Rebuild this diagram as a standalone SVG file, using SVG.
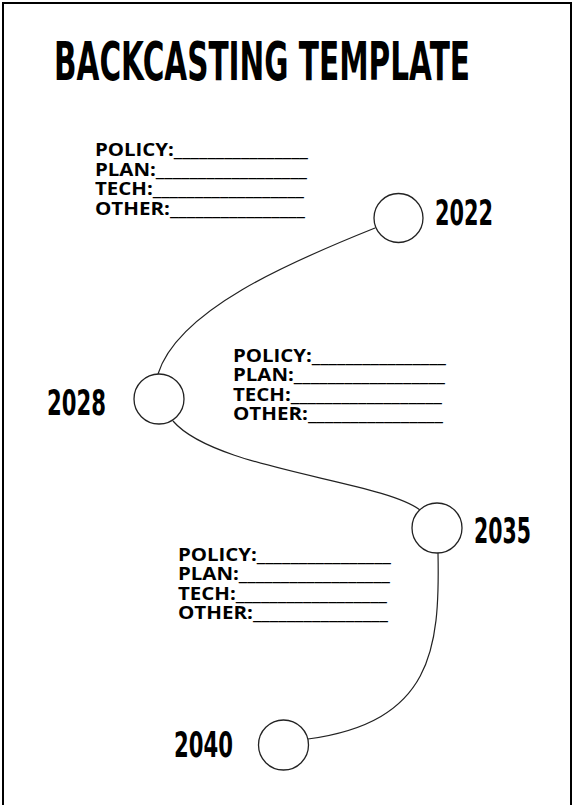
<svg xmlns="http://www.w3.org/2000/svg" width="574" height="805" viewBox="0 0 574 805">
<style>
.title{font-family:"DejaVu Sans",sans-serif;font-weight:bold;font-size:40px;fill:#000}
.year{font-family:"DejaVu Sans",sans-serif;font-weight:bold;font-size:36px;fill:#000}
.field{font-family:"Open Sans","Noto Sans",sans-serif;font-weight:bold;font-size:18.5px;fill:#000}
.node{fill:#fff;stroke:#222;stroke-width:1.3}
.conn{fill:none;stroke:#222;stroke-width:1.2}
</style>
<rect x="0" y="0" width="574" height="805" fill="#fff"/>
<rect x="3" y="3" width="568" height="830" fill="none" stroke="#000" stroke-width="2"/>
<text class="title" transform="translate(54,80) scale(1,1.32)" x="0" y="0" textLength="416" lengthAdjust="spacingAndGlyphs">BACKCASTING TEMPLATE</text>
<g id="connectors">
<path class="conn" d="M375,228 C290,262 178,310 158,374"/>
<path class="conn" d="M173,421 C215,470 380,480 420,510"/>
<path class="conn" d="M438,553 C440,650 432,722 308,739"/>
</g>
<g id="fields-1">
<text class="field" x="95" y="156" textLength="213" lengthAdjust="spacingAndGlyphs">POLICY:________________</text>
<text class="field" x="95" y="175.5" textLength="212" lengthAdjust="spacingAndGlyphs">PLAN:__________________</text>
<text class="field" x="95" y="195" textLength="209" lengthAdjust="spacingAndGlyphs">TECH:__________________</text>
<text class="field" x="95" y="214.5" textLength="210" lengthAdjust="spacingAndGlyphs">OTHER:________________</text>
</g>
<g id="fields-2">
<text class="field" x="233" y="361.5" textLength="213" lengthAdjust="spacingAndGlyphs">POLICY:________________</text>
<text class="field" x="233" y="381" textLength="212" lengthAdjust="spacingAndGlyphs">PLAN:__________________</text>
<text class="field" x="233" y="400.5" textLength="209" lengthAdjust="spacingAndGlyphs">TECH:__________________</text>
<text class="field" x="233" y="420" textLength="210" lengthAdjust="spacingAndGlyphs">OTHER:________________</text>
</g>
<g id="fields-3">
<text class="field" x="178" y="560.5" textLength="213" lengthAdjust="spacingAndGlyphs">POLICY:________________</text>
<text class="field" x="178" y="580" textLength="212" lengthAdjust="spacingAndGlyphs">PLAN:__________________</text>
<text class="field" x="178" y="599.5" textLength="209" lengthAdjust="spacingAndGlyphs">TECH:__________________</text>
<text class="field" x="178" y="619" textLength="210" lengthAdjust="spacingAndGlyphs">OTHER:________________</text>
</g>
<g id="node-2022">
<circle class="node" cx="398.5" cy="218" r="24.5"/>
<text class="year" x="435" y="225" textLength="58" lengthAdjust="spacingAndGlyphs">2022</text>
</g>
<g id="node-2028">
<circle class="node" cx="159" cy="399" r="25"/>
<text class="year" x="47" y="415" textLength="59" lengthAdjust="spacingAndGlyphs">2028</text>
</g>
<g id="node-2035">
<circle class="node" cx="437" cy="528" r="25"/>
<text class="year" x="474" y="543" textLength="57" lengthAdjust="spacingAndGlyphs">2035</text>
</g>
<g id="node-2040">
<circle class="node" cx="283.5" cy="745" r="25"/>
<text class="year" x="174" y="757" textLength="59" lengthAdjust="spacingAndGlyphs">2040</text>
</g>
</svg>
